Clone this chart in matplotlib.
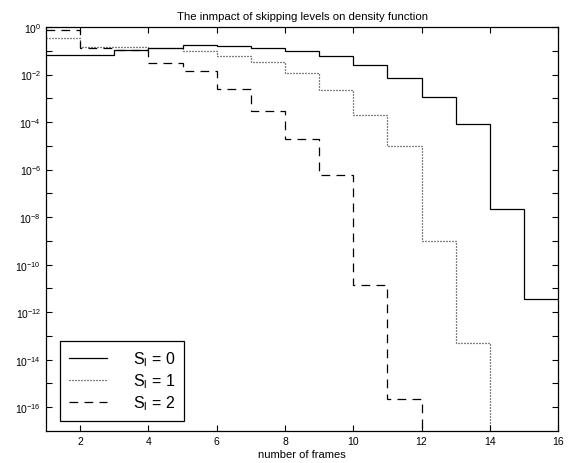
"""Step plot of frame-count density for different skipping levels."""

import matplotlib

matplotlib.use("Agg")
import matplotlib.pyplot as plt
from matplotlib.ticker import FixedLocator, NullFormatter

plt.rcParams["font.family"] = ["Liberation Sans", "DejaVu Sans"]
plt.rcParams["mathtext.fontset"] = "custom"
plt.rcParams["mathtext.rm"] = "Liberation Sans"
plt.rcParams["mathtext.it"] = "Liberation Sans"

frame_edges = list(range(1, 17))

# density per frame bin, one value per [k, k+1)
density_level_0 = [6.5e-2, 6.5e-2, 1.03e-1, 1.26e-1, 1.68e-1, 1.58e-1, 1.32e-1,
                   9.4e-2, 5.9e-2, 2.6e-2, 6.9e-3, 1.14e-3, 8.5e-5, 2.2e-8, 3.5e-12]
density_level_1 = [3.5e-1, 1.4e-1, 1.4e-1, 1.3e-1, 9.7e-2, 6.0e-2, 3.3e-2,
                   1.15e-2, 2.2e-3, 2.0e-4, 1.0e-5, 9.5e-10, 5e-14, 1e-20, 1e-20]
density_level_2 = [7.5e-1, 1.26e-1, 1.1e-1, 3.1e-2, 1.38e-2, 2.5e-3, 3.0e-4,
                   1.9e-5, 5.9e-7, 1.45e-11, 2.3e-16, 1e-20, 1e-20, 1e-20, 1e-20]

series_labels = [r"S$_{\rm l}$ = 0", r"S$_{\rm l}$ = 1", r"S$_{\rm l}$ = 2"]

x_ticks = [2, 4, 6, 8, 10, 12, 14, 16]
y_major_exponents = [0, -2, -4, -6, -8, -10, -12, -14, -16]
y_minor_exponents = [-1, -3, -5, -7, -9, -11, -13, -15]

figure = plt.figure(figsize=(5.68, 4.64), dpi=100)
axes = figure.add_axes([0.081, 0.069, 0.9015, 0.8707])

styles = [
    dict(linestyle="-", linewidth=0.9),
    dict(linestyle=(0, (0.8, 1.6)), linewidth=0.9),
    dict(linestyle=(0, (7, 5)), linewidth=0.9),
]
for values, label, style in zip(
    [density_level_0, density_level_1, density_level_2], series_labels, styles
):
    axes.stairs(values, frame_edges, baseline=None, color="black", label=label, **style)

axes.set_yscale("log")
axes.set_xlim(1, 16)
axes.set_ylim(1e-17, 1e0)

axes.xaxis.set_major_locator(FixedLocator(x_ticks))
axes.yaxis.set_major_locator(FixedLocator([10.0 ** e for e in y_major_exponents]))
axes.yaxis.set_minor_locator(FixedLocator([10.0 ** e for e in y_minor_exponents]))
axes.yaxis.set_minor_formatter(NullFormatter())
axes.set_yticklabels([rf"$10^{{{e}}}$" for e in y_major_exponents])

axes.tick_params(which="both", direction="in", top=True, right=True,
                 labelsize=7.5, width=0.8, length=4)
for spine in axes.spines.values():
    spine.set_linewidth(0.9)

axes.set_title("The inmpact of skipping levels on density function",
               fontsize=8.2, pad=6)
axes.set_xlabel("number of frames", fontsize=8, labelpad=2)

legend = axes.legend(loc="lower left", bbox_to_anchor=(0.027, 0.025),
                     fontsize=11.5, handlelength=2.4, handletextpad=1.65,
                     labelspacing=0.2, borderpad=0.55, borderaxespad=0,
                     fancybox=False, framealpha=1, edgecolor="black")
legend.get_frame().set_linewidth(0.9)

figure.savefig("out.png", dpi=100)
